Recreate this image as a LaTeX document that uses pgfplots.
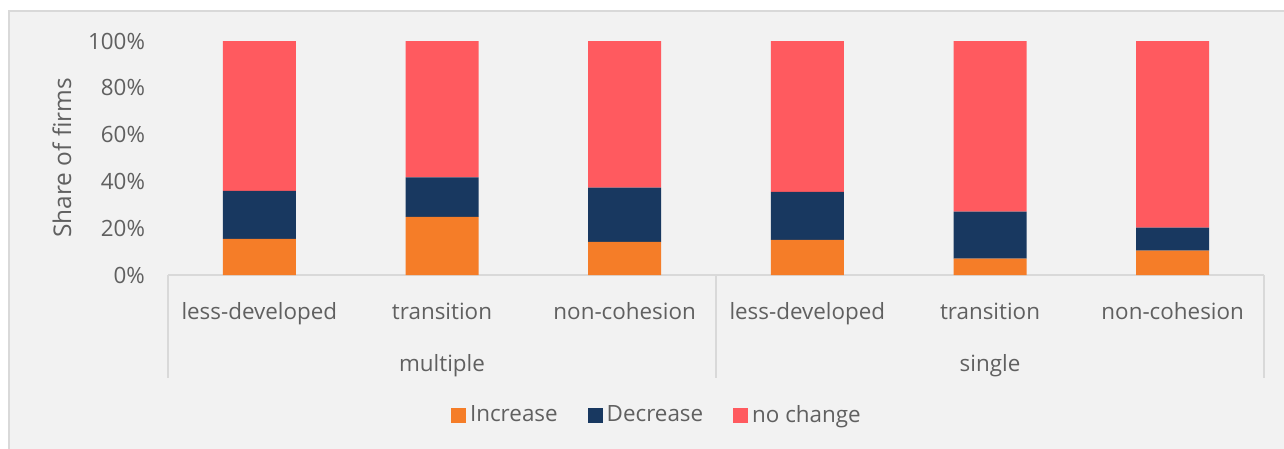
\documentclass[border=0pt]{standalone}
\usepackage{pgfplots}
\pgfplotsset{compat=1.18}
\usepackage{fontspec}
\setmainfont{Open Sans}
\definecolor{cOrange}{HTML}{F57D28}
\definecolor{cNavy}{HTML}{183860}
\definecolor{cRed}{HTML}{FF5A5F}
\definecolor{bg}{HTML}{F2F2F2}
\definecolor{frame}{HTML}{D9D9D9}
\definecolor{tc}{HTML}{606060}
\begin{document}
\begin{tikzpicture}
\useasboundingbox (0,0) rectangle (642pt,-224.5pt);
\fill[white] (0,0) rectangle (642pt,-224.5pt);
\filldraw[fill=bg, draw=frame, line width=1pt] (4.5pt,-5.5pt) rectangle (646pt,-230pt);
\begin{axis}[
  at={(84pt,-137.5pt)}, anchor=south west,
  scale only axis, width=548pt, height=117pt,
  ybar stacked, bar width=36.5pt,
  xmin=-0.5, xmax=5.5, ymin=0, ymax=100,
  xtick={0,...,5},
  xticklabels={less-developed,transition,non-cohesion,less-developed,transition,non-cohesion},
  ytick={0,20,40,60,80,100},
  yticklabels={0\%,20\%,40\%,60\%,80\%,100\%},
  axis line style={draw=none},
  tick style={draw=none},
  tick label style={font=\fontsize{11.2}{13}\selectfont, text=tc},
  xticklabel style={anchor=center, text height=0.76em, text depth=0.24em, yshift=-19.5pt},
  yticklabel style={xshift=-8pt},
  ylabel={Share of firms},
  ylabel style={at={(rel axis cs:0,0.5)}, anchor=center, yshift=53pt, font=\fontsize{12.2}{14}\selectfont, text=tc},
  clip=false,
  legend columns=3,
  legend style={at={(rel axis cs:0.447,-0.6)}, anchor=center, draw=none, fill=none,
    font=\fontsize{11.2}{13}\selectfont, text=tc,
    /tikz/every even column/.append style={column sep=13pt},
    nodes={inner sep=2pt}},
  legend image code/.code={\fill[#1] (0pt,-3.75pt) rectangle (7.5pt,3.75pt);},
]
\addplot[fill=cOrange, draw=none] coordinates {(0,15.4) (1,24.8) (2,14.2) (3,15.0) (4,7.0) (5,10.4)};
\addlegendentry{Increase}
\addplot[fill=cNavy, draw=none] coordinates {(0,20.5) (1,16.9) (2,23.1) (3,20.5) (4,20.1) (5,9.8)};
\addlegendentry{Decrease}
\addplot[fill=cRed, draw=none] coordinates {(0,64.1) (1,58.3) (2,62.7) (3,64.5) (4,72.9) (5,79.8)};
\addlegendentry{no change}
\draw[frame, line width=1pt] (axis cs:-0.5,0) -- (axis cs:5.5,0);
\draw[frame, line width=0.8pt] (axis cs:-0.5,0) -- ([yshift=-51.5pt]axis cs:-0.5,0);
\draw[frame, line width=0.8pt] (axis cs:2.5,0) -- ([yshift=-51.5pt]axis cs:2.5,0);
\draw[frame, line width=0.8pt] (axis cs:5.5,0) -- ([yshift=-51.5pt]axis cs:5.5,0);
\node[font=\fontsize{11.2}{13}\selectfont, text=tc, text height=0.76em, text depth=0.24em] at (axis cs:1,0) [yshift=-45.5pt] {multiple};
\node[font=\fontsize{11.2}{13}\selectfont, text=tc, text height=0.76em, text depth=0.24em] at (axis cs:4,0) [yshift=-45.5pt] {single};
\end{axis}
\end{tikzpicture}
\end{document}
